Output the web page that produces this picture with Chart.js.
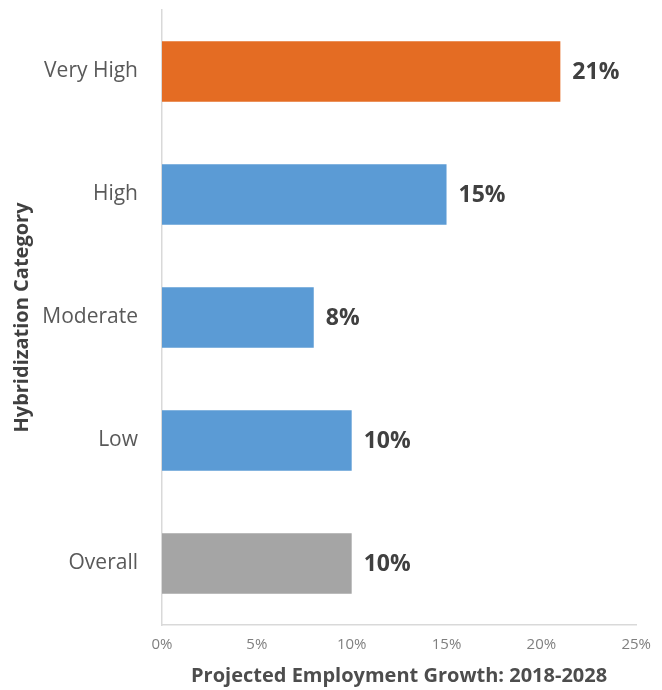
<!DOCTYPE html>
<html>
<head>
<meta charset="utf-8">
<script src="https://cdn.jsdelivr.net/npm/chart.js@4"></script>
<style>
  body { margin: 0; background: #fff; }
  #wrap { width: 662px; height: 690px; }
</style>
</head>
<body>
<div id="wrap"><canvas id="barCanvas" width="662" height="690"></canvas></div>
<script>
const categories = ['Very High', 'High', 'Moderate', 'Low', 'Overall'];
const growth = [21, 15, 8, 10, 10];
const barColors = ['#E46C23', '#5B9BD5', '#5B9BD5', '#5B9BD5', '#A5A5A5'];
const xTickStep = 5;
const xMax = 25;

// value labels drawn just past the end of each bar
const valueLabels = {
    id: 'valueLabels',
    afterDatasetsDraw(chart) {
        const ctx = chart.ctx;
        const meta = chart.getDatasetMeta(0);
        ctx.save();
        ctx.font = 'bold 23px "Open Sans"';
        ctx.fillStyle = '#404040';
        ctx.textBaseline = 'middle';
        ctx.textAlign = 'left';
        meta.data.forEach((bar, i) => {
            ctx.fillText(growth[i] + '%', bar.x + 12, bar.y + 1);
        });
        ctx.restore();
    }
};

const barCanvas = document.getElementById('barCanvas');
window.barChart = new Chart(barCanvas, {
    type: 'bar',
    data: {
        labels: categories,
        datasets: [{
            data: growth,
            backgroundColor: barColors,
            borderWidth: 0,
            barPercentage: 0.49,
            categoryPercentage: 1,
        }],
    },
    plugins: [valueLabels],
    options: {
        indexAxis: 'y',
        responsive: false,
        animation: false,
        layout: { padding: { top: 10, right: 4, left: 10, bottom: 2 } },
        scales: {
            x: {
                min: 0,
                max: xMax,
                grid: { display: false, drawTicks: false },
                border: { color: '#d9d9d9', width: 1.5 },
                ticks: {
                    stepSize: xTickStep,
                    callback: (v) => v + '%',
                    font: { family: 'Open Sans', size: 15 },
                    color: '#7f7f7f',
                    padding: 11,
                },
                title: {
                    display: true,
                    text: 'Projected Employment Growth: 2018-2028',
                    font: { family: 'Open Sans', size: 20, weight: 'bold' },
                    color: '#4d4d4d',
                    padding: { top: 8, bottom: 0 },
                },
                afterFit(scale) {
                    scale.height = 63;
                }
            },
            y: {
                grid: { display: false, drawTicks: false },
                border: { color: '#d9d9d9', width: 1.5 },
                ticks: {
                    font: { family: 'Open Sans', size: 21 },
                    color: '#595959',
                    padding: 24,
                },
                title: {
                    display: true,
                    text: 'Hybridization Category',
                    font: { family: 'Open Sans', size: 20, weight: 'bold' },
                    color: '#404040',
                    padding: { top: 0, bottom: 6 },
                },
                // fixed axis width, flush with the top padding
                afterFit(scale) {
                    scale.width = 152;
                    scale.paddingTop = 0;
                    scale.paddingBottom = 0;
                }
            }
        },
        plugins: {
            legend: { display: false },
            tooltip: { enabled: false }
        }
    }
});
</script>
</body>
</html>
